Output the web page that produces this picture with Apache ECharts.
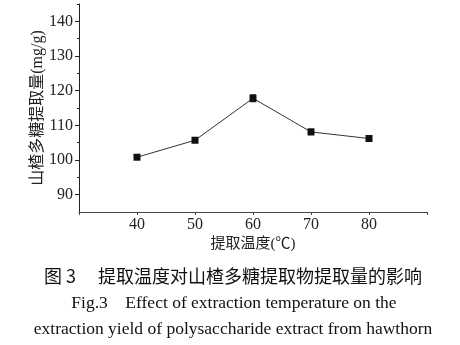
<!DOCTYPE html>
<html><head><meta charset="utf-8">
<script src="https://cdn.jsdelivr.net/npm/echarts@6/dist/echarts.min.js"></script>
<style>html,body{margin:0;padding:0;background:#fff}#c{width:460px;height:345px}</style>
</head><body><div id="c"></div>
<script>
var temps = [40, 50, 60, 70, 80];
var yields = [100.8, 105.7, 117.8, 108.1, 106.2];
var errs = [0.5, 0.5, 1.0, 0.8, 0.7];
var xTickLabels = [40, 50, 60, 70, 80];
var xTicks = [30, 40, 50, 60, 70, 80, 90];
var yTickLabels = [90, 100, 110, 120, 130, 140];
var yMinorTicks = [95, 105, 115, 125, 135, 145];
var yAxisTitle = '山楂多糖提取量(mg/g)';
var xAxisTitle = '提取温度(℃)';
var captionCn = '图 3　 提取温度对山楂多糖提取物提取量的影响';
var captionEn1 = 'Fig.3    Effect of extraction temperature on the';
var captionEn2 = 'extraction yield of polysaccharide extract from hawthorn';

var serif = '"Liberation Serif", "Noto Sans CJK SC", serif';
var chart = echarts.init(document.getElementById('c'));
var errData = temps.map(function (t, i) { return [t, yields[i] - errs[i], yields[i] + errs[i]]; });
var lineData = temps.map(function (t, i) { return [t, yields[i]]; });
chart.setOption({
  animation: false,
  backgroundColor: '#fff',
  title: [
    { text: captionCn, left: 228, top: 262, textAlign: 'center',
      textStyle: { fontFamily: '"Noto Sans CJK SC", serif', fontSize: 18, fontWeight: 'normal', color: '#111' } },
    { text: captionEn1, left: 229, top: 290, textAlign: 'center',
      textStyle: { fontFamily: serif, fontSize: 17.5, fontWeight: 'normal', color: '#111' } },
    { text: captionEn2, left: 228, top: 316, textAlign: 'center',
      textStyle: { fontFamily: serif, fontSize: 17.5, fontWeight: 'normal', color: '#111' } }
  ],
  grid: { left: 79, top: 4, width: 348, height: 208, containLabel: false },
  xAxis: {
    type: 'value', min: 30, max: 90,
    name: xAxisTitle, nameLocation: 'middle', nameGap: 25, nameMoveOverlap: false,
    nameTextStyle: { fontFamily: serif, fontSize: 15, color: '#222' },
    axisLine: { lineStyle: { color: '#444', width: 1 } },
    axisTick: { customValues: xTicks, length: 3, lineStyle: { color: '#444' } },
    axisLabel: { customValues: xTickLabels, fontFamily: serif, fontSize: 16, color: '#222', margin: 5 },
    splitLine: { show: false }
  },
  yAxis: [{
    type: 'value', min: 85, max: 145,
    name: yAxisTitle, nameLocation: 'middle', nameGap: 33, nameRotate: 90, nameMoveOverlap: false,
    nameTextStyle: { fontFamily: serif, fontSize: 16, color: '#222' },
    axisLine: { show: true, lineStyle: { color: '#222', width: 1 } },
    axisTick: { customValues: yTickLabels, length: 4, lineStyle: { color: '#222' } },
    axisLabel: { customValues: yTickLabels, fontFamily: serif, fontSize: 16, color: '#222', margin: 6 },
    splitLine: { show: false }
  }, {
    type: 'value', min: 85, max: 145, position: 'left',
    axisLine: { show: false },
    axisTick: { show: true, customValues: yMinorTicks, length: 2, lineStyle: { color: '#222' } },
    axisLabel: { show: false },
    splitLine: { show: false }
  }],
  series: [{
    type: 'line', data: lineData, yAxisIndex: 0,
    symbol: 'rect', symbolSize: 7,
    lineStyle: { color: '#333', width: 1 },
    itemStyle: { color: '#111' }
  }, {
    type: 'custom', yAxisIndex: 0, data: errData,
    renderItem: function (params, api) {
      var lo = api.coord([api.value(0), api.value(1)]);
      var hi = api.coord([api.value(0), api.value(2)]);
      var w = 3;
      var st = { stroke: '#111', lineWidth: 1 };
      return { type: 'group', children: [
        { type: 'line', shape: { x1: lo[0], y1: lo[1], x2: hi[0], y2: hi[1] }, style: st },
        { type: 'line', shape: { x1: lo[0] - w, y1: lo[1], x2: lo[0] + w, y2: lo[1] }, style: st },
        { type: 'line', shape: { x1: hi[0] - w, y1: hi[1], x2: hi[0] + w, y2: hi[1] }, style: st }
      ] };
    }
  }]
});
</script></body></html>
